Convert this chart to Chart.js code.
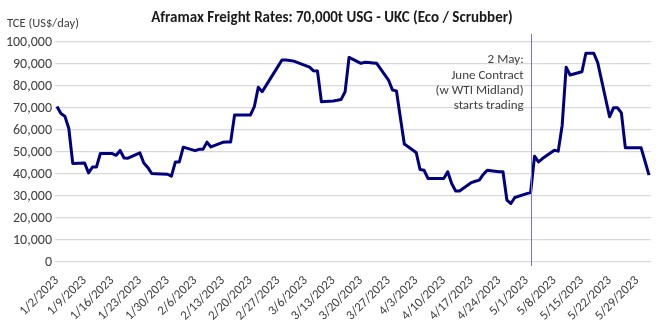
<!DOCTYPE html>
<html>
<head>
<meta charset="utf-8">
<script src="https://cdn.jsdelivr.net/npm/chart.js@4"></script>
<style>
  body { margin: 0; background: #fff; }
  #wrap { width: 667px; height: 333px; }
</style>
</head>
<body>
<div id="wrap"><canvas id="myChart"></canvas></div>
<script>
// daily TCE, US$/day (business days)
const dates = [
    '1/2', '1/3', '1/4', '1/5', '1/6', '1/9', '1/10', '1/11', '1/12', '1/13',
    '1/16', '1/17', '1/18', '1/19', '1/20', '1/23', '1/24', '1/25', '1/26', '1/27',
    '1/30', '1/31', '2/1', '2/2', '2/3', '2/6', '2/7', '2/8', '2/9', '2/10',
    '2/13', '2/14', '2/15', '2/16', '2/17', '2/20', '2/21', '2/22', '2/23', '2/24',
    '2/27', '2/28', '3/1', '3/2', '3/3', '3/6', '3/7', '3/8', '3/9', '3/10',
    '3/13', '3/14', '3/15', '3/16', '3/17', '3/20', '3/21', '3/22', '3/23', '3/24',
    '3/27', '3/28', '3/29', '3/30', '3/31', '4/3', '4/4', '4/5', '4/6', '4/10',
    '4/11', '4/12', '4/13', '4/14', '4/17', '4/18', '4/19', '4/20', '4/21', '4/24',
    '4/25', '4/26', '4/27', '4/28', '5/1', '5/2', '5/3', '5/4', '5/5', '5/8',
    '5/9', '5/10', '5/11', '5/12', '5/15', '5/16', '5/17', '5/18', '5/19', '5/22',
    '5/23', '5/24', '5/25', '5/26', '5/30', '5/31', '6/1'
];
const rates = [
    70700, 67500, 66300, 60700, 44800, 45000, 40500, 43200, 43200, 49300,
    49300, 48500, 50700, 47300, 47200, 49600, 45000, 43000, 40200, 40100,
    39900, 39000, 45500, 45500, 52200, 50600, 51200, 51200, 54500, 52300,
    54400, 54500, 54500, 66800, 66800, 66800, 70600, 79400, 77400, 80300,
    88900, 91800, 91800, 91600, 91300, 89300, 88600, 86900, 86800, 72800,
    73200, 73500, 73900, 77400, 93000, 90300, 90800, 90700, 90500, 90300,
    82700, 78200, 77800, 65700, 53600, 49800, 42000, 41700, 38000, 38000,
    41000, 35700, 32300, 32300, 36100, 36700, 37200, 39800, 41700, 41000,
    41000, 28100, 26600, 29300, 31100, 31600, 48100, 45500, 47000, 50800,
    50400, 62200, 88500, 85000, 86500, 94900, 94900, 94900, 90600, 66000,
    70100, 70100, 67800, 51900, 51900, 45700, 39500
];
const tickDates = [
    '1/2', '1/9', '1/16', '1/23', '1/30', '2/6', '2/13', '2/20', '2/27', '3/6', '3/13',
    '3/20', '3/27', '4/3', '4/10', '4/17', '4/24', '5/1', '5/8', '5/15', '5/22', '5/29'
];
const eventDate = '5/2';
const eventText = ['2 May:', 'June Contract', '(w WTI Midland)', 'starts trading'];

const FONT = 'Calibri, Carlito, Lato, sans-serif';

function dayOf(md) {
    var p = md.split('/');
    return (Date.UTC(2023, +p[0] - 1, +p[1]) - Date.UTC(2023, 0, 2)) / 86400000;
}

const tickDays = tickDates.map(dayOf);
const points = dates.map(function (d, i) { return { x: dayOf(d), y: rates[i] }; });

const extras = {
    id: 'extras',
    afterDraw(chart) {
        const ctx = chart.ctx;
        const area = chart.chartArea;
        const x = chart.scales.x.getPixelForValue(dayOf(eventDate));
        ctx.save();
        // event marker
        ctx.strokeStyle = '#7373d4';
        ctx.lineWidth = 1;
        ctx.beginPath();
        ctx.moveTo(Math.round(x) + 0.5, area.top - 8);
        ctx.lineTo(Math.round(x) + 0.5, area.bottom + 4);
        ctx.stroke();
        ctx.fillStyle = '#404040';
        ctx.font = '13px ' + FONT;
        ctx.textAlign = 'right';
        ctx.textBaseline = 'middle';
        eventText.forEach(function (t, i) {
            ctx.fillText(t, x - 7, area.top + 18 + i * 15.4);
        });
        // title and axis title
        ctx.fillStyle = '#1a1a1a';
        ctx.font = 'bold 15px ' + FONT;
        ctx.textAlign = 'center';
        ctx.fillText('Aframax Freight Rates: 70,000t USG - UKC (Eco / Scrubber)', 332, 18);
        ctx.fillStyle = '#404040';
        ctx.font = '12.5px ' + FONT;
        ctx.textAlign = 'left';
        ctx.fillText('TCE (US$/day)', 7, 24);
        ctx.restore();
    }
};

new Chart(document.getElementById('myChart'), {
    type: 'line',
    data: {
        datasets: [{
            data: points,
            borderColor: '#00007f',
            borderWidth: 3,
            borderJoinStyle: 'round',
            pointRadius: 0,
            tension: 0,
            fill: false
        }]
    },
    options: {
        responsive: true,
        maintainAspectRatio: false,
        animation: false,
        layout: { padding: { top: 42, right: 16, left: 0, bottom: 0 } },
        plugins: {
            legend: { display: false },
            title: { display: false },
            tooltip: { enabled: false }
        },
        scales: {
            x: {
                type: 'linear',
                min: -0.5,
                max: 150.5,
                grid: { display: false },
                border: { display: false },
                afterBuildTicks: function (scale) {
                    scale.ticks = tickDays.map(function (v) { return { value: v }; });
                },
                afterFit: function (scale) { scale.height = 71; },
                ticks: {
                    autoSkip: false,
                    maxRotation: 45,
                    minRotation: 45,
                    padding: 3,
                    color: '#404040',
                    font: { family: FONT, size: 13 },
                    callback: function (v) {
                        var i = tickDays.indexOf(v);
                        return i < 0 ? '' : tickDates[i] + '/2023';
                    }
                }
            },
            y: {
                min: 0,
                max: 100000,
                border: { display: false },
                grid: { color: '#d9d9d9', lineWidth: 1.2, drawTicks: false },
                afterFit: function (scale) { scale.width = 55; },
                ticks: {
                    stepSize: 10000,
                    padding: 3,
                    color: '#404040',
                    font: { family: FONT, size: 14 },
                    callback: function (v) { return v.toLocaleString('en-US'); }
                }
            }
        }
    },
    plugins: [extras]
});
</script>
</body>
</html>
